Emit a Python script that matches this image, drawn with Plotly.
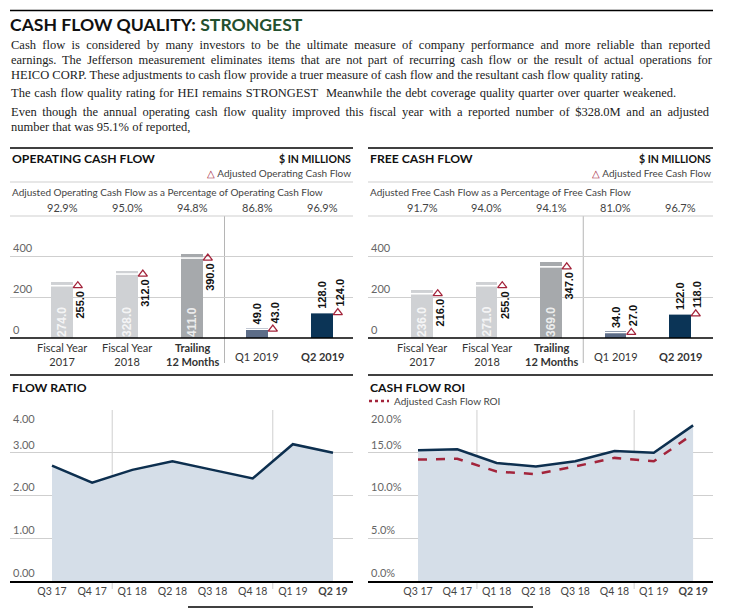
import plotly.graph_objects as go

W, H = 737, 613

# ---------------- data ----------------
bar_categories = ["Fiscal Year<br>2017", "Fiscal Year<br>2018", "<b>Trailing<br>12 Months</b>",
                  "Q1 2019", "<b>Q2 2019</b>"]
ocf_reported = [274.0, 328.0, 411.0, 49.0, 128.0]
ocf_adjusted = [255.0, 312.0, 390.0, 43.0, 124.0]
ocf_pct = ["92.9%", "95.0%", "94.8%", "86.8%", "96.9%"]
fcf_reported = [236.0, 271.0, 369.0, 34.0, 122.0]
fcf_adjusted = [216.0, 255.0, 347.0, 27.0, 118.0]
fcf_pct = ["91.7%", "94.0%", "94.1%", "81.0%", "96.7%"]
bar_ticks = [0, 200, 400]

quarters = ["Q3 17", "Q4 17", "Q1 18", "Q2 18", "Q3 18", "Q4 18", "Q1 19", "<b>Q2 19</b>"]
flow_ratio = [2.70, 2.30, 2.60, 2.80, 2.60, 2.40, 3.20, 3.00]
cf_roi = [15.3, 15.4, 13.8, 13.4, 14.0, 15.2, 15.0, 18.2]
adj_cf_roi = [14.2, 14.3, 12.8, 12.5, 13.4, 14.4, 14.0, 17.2]
ratio_ticks = [0, 1, 2, 3, 4]
roi_ticks = [0, 5, 10, 15, 20]

# ---------------- styles ----------------
SANS = "Lato, 'Open Sans', sans-serif"
NUM = "'Liberation Sans', Arial, sans-serif"
SERIF = "'Liberation Serif', 'Times New Roman', serif"
BAR_COLORS = ["#cfd1d4", "#cfd1d4", "#a6a9ac", "#5d6d88", "#0b3456"]
NAVY = "#0d2f4f"
RED = "#a3243b"
FILL = "#d5dee8"
GRID = "#cfcfcf"
TXT = "#444444"


def X(px):
    return px / W


def Y(py):
    return 1 - py / H


fig = go.Figure()
shapes = []
ann = []

LEFT = (10, 353)
RIGHT = (368, 713)


def ytick_annotations(ya, p0, ticks, labels, top_inside=False):
    for k, (t, lab) in enumerate(zip(ticks, labels)):
        is_top = top_inside and k == len(ticks) - 1
        ann.append(dict(x=X(p0 + 1), y=t, xref="paper", yref=ya, text=lab, showarrow=False,
                        xanchor="left", yanchor="top" if is_top else "bottom", yshift=0,
                        font=dict(family=SANS, size=11, color="#666")))


# --------------- bar panels ---------------
bar_panels = [
    ("x", "y", LEFT, 62, 65.0, ocf_reported, ocf_adjusted, ocf_pct,
     "OPERATING CASH FLOW", "Adjusted Operating Cash Flow",
     "Adjusted Operating Cash Flow as a Percentage of Operating Cash Flow"),
    ("x2", "y2", RIGHT, 422, 64.5, fcf_reported, fcf_adjusted, fcf_pct,
     "FREE CASH FLOW", "Adjusted Free Cash Flow",
     "Adjusted Free Cash Flow as a Percentage of Free Cash Flow"),
]
BAR_W = 0.333
for xa, ya, (p0, p1), c0, step, rep, adj, pct, title, legend, subtitle in bar_panels:
    n = len(rep)
    xs = list(range(n))
    r0 = -(c0 - p0) / step
    r1 = r0 + (p1 - p0) / step
    fig.update_layout(**{
        "xaxis" + xa[1:]: dict(domain=[X(p0), X(p1)], range=[r0, r1], showticklabels=False,
                               showgrid=False, zeroline=False, showline=False, anchor=ya),
        "yaxis" + ya[1:]: dict(domain=[Y(338), Y(215)], range=[0, 600], tickvals=bar_ticks,
                               showticklabels=False, showgrid=True, gridcolor=GRID, gridwidth=1,
                               zeroline=False, showline=False, anchor=xa),
    })
    ytick_annotations(ya, p0, bar_ticks, [str(t) for t in bar_ticks])
    fig.add_trace(go.Bar(x=xs, y=rep, width=BAR_W, marker=dict(color=BAR_COLORS, line=dict(width=0)),
                         xaxis=xa, yaxis=ya, hoverinfo="skip", showlegend=False))
    # white separator at adjusted value
    fig.add_trace(go.Scatter(x=xs, y=adj, mode="markers", xaxis=xa, yaxis=ya,
                             marker=dict(symbol="line-ew", size=21, line=dict(color="white", width=1.6)),
                             hoverinfo="skip", showlegend=False))
    # adjusted triangles
    tri_x = [i + BAR_W / 2 + 5.0 / step for i in xs]
    fig.add_trace(go.Scatter(x=tri_x, y=adj, mode="markers", xaxis=xa, yaxis=ya,
                             marker=dict(symbol="triangle-up-open", size=8, color=RED,
                                         line=dict(color=RED, width=1.3)),
                             hoverinfo="skip", showlegend=False))
    # labels
    for i in xs:
        lab_x = i + BAR_W / 2 + 7.0 / step
        if i < 3:
            ann.append(dict(x=i, y=0, xref=xa, yref=ya, text="%.1f" % rep[i], textangle=-90,
                            showarrow=False, xanchor="center", yanchor="bottom", yshift=-1,
                            font=dict(family=NUM, size=12, color="rgba(255,255,255,0.8)", weight="bold")))
            ann.append(dict(x=lab_x, y=adj[i], xref=xa, yref=ya, text="<b>%.1f</b>" % adj[i], textangle=-90,
                            showarrow=False, xanchor="center", yanchor="top", yshift=-3,
                            font=dict(family=NUM, size=11, color="#111")))
        else:
            ann.append(dict(x=i, y=rep[i], xref=xa, yref=ya, text="<b>%.1f</b>" % rep[i], textangle=-90,
                            showarrow=False, xanchor="center", yanchor="bottom", yshift=1,
                            font=dict(family=NUM, size=11, color="#111")))
            ann.append(dict(x=lab_x, y=adj[i], xref=xa, yref=ya, text="<b>%.1f</b>" % adj[i], textangle=-90,
                            showarrow=False, xanchor="center", yanchor="bottom", yshift=4,
                            font=dict(family=NUM, size=11, color="#111")))
        # percentages
        ann.append(dict(x=i, y=Y(207), xref=xa, yref="paper", text=pct[i], showarrow=False,
                        xanchor="center", yanchor="middle",
                        font=dict(family=SANS, size=11, color=TXT)))
        # category labels
        cat = bar_categories[i]
        if "<br>" in cat:
            ann.append(dict(x=i, y=Y(338.5), xref=xa, yref="paper", text=cat, showarrow=False,
                            xanchor="center", yanchor="top",
                            font=dict(family=SANS, size=11, color="#333")))
        else:
            ann.append(dict(x=i, y=Y(356), xref=xa, yref="paper", text=cat, showarrow=False,
                            xanchor="center", yanchor="middle",
                            font=dict(family=SANS, size=11, color="#333")))
    # divider between annual and quarterly
    shapes.append(dict(type="line", xref=xa, yref="paper", x0=2.5, x1=2.5, y0=Y(363), y1=Y(216),
                       line=dict(color="#b5b5b5", width=1), layer="below"))
    # axis line
    shapes.append(dict(type="line", xref="paper", yref="paper", x0=X(p0), x1=X(p1), y0=Y(338), y1=Y(338),
                       line=dict(color="black", width=1.5)))
    # header rules
    shapes.append(dict(type="line", xref="paper", yref="paper", x0=X(p0), x1=X(p1), y0=Y(148), y1=Y(148),
                       line=dict(color="black", width=1.5)))
    for yy in (182, 216):
        shapes.append(dict(type="line", xref="paper", yref="paper", x0=X(p0), x1=X(p1), y0=Y(yy), y1=Y(yy),
                           line=dict(color=GRID, width=1), layer="below"))
    ann.append(dict(x=X(p0), y=Y(159), xref="paper", yref="paper", text="<b>" + title + "</b>",
                    showarrow=False, xanchor="left", yanchor="middle",
                    font=dict(family=SANS, size=12.2, color="#111")))
    ann.append(dict(x=X(p1), y=Y(159), xref="paper", yref="paper", text="<b>$ IN MILLIONS</b>",
                    showarrow=False, xanchor="right", yanchor="middle",
                    font=dict(family=SANS, size=10.5, color="#111")))
    ann.append(dict(x=X(p1), y=Y(173), xref="paper", yref="paper",
                    text="<span style='color:%s'>△</span> %s" % (RED, legend),
                    showarrow=False, xanchor="right", yanchor="middle",
                    font=dict(family=SANS, size=10, color=TXT)))
    ann.append(dict(x=X(p0), y=Y(192), xref="paper", yref="paper", text=subtitle,
                    showarrow=False, xanchor="left", yanchor="middle",
                    font=dict(family=SANS, size=10, color=TXT)))

# --------------- line panels ---------------
line_panels = [
    ("x3", "y3", LEFT, 52, 40.14, [flow_ratio], ratio_ticks, ["%.2f" % t for t in ratio_ticks], "FLOW RATIO"),
    ("x4", "y4", RIGHT, 418, 39.3, [cf_roi, adj_cf_roi], roi_ticks, ["%.1f%%" % t for t in roi_ticks], "CASH FLOW ROI"),
]
for xa, ya, (p0, p1), c0, step, series, ticks, ticktext, title in line_panels:
    xs = list(range(len(quarters)))
    r0 = -(c0 - p0) / step
    r1 = r0 + (p1 - p0) / step
    fig.update_layout(**{
        "xaxis" + xa[1:]: dict(domain=[X(p0), X(p1)], range=[r0, r1], tickvals=xs, ticktext=quarters,
                               tickfont=dict(family=SANS, size=10.5, color=TXT), ticks="",
                               showgrid=False, zeroline=False, showline=True, linecolor="black",
                               linewidth=1.5, anchor=ya),
        "yaxis" + ya[1:]: dict(domain=[Y(581), Y(410)], range=[0, ticks[-1]], tickvals=ticks,
                               showticklabels=False, showgrid=True, gridcolor=GRID, gridwidth=1,
                               zeroline=False, showline=False, anchor=xa),
    })
    ytick_annotations(ya, p0, ticks, ticktext, top_inside=True)
    fig.add_trace(go.Scatter(x=xs, y=series[0], mode="lines", fill="tozeroy", fillcolor=FILL,
                             line=dict(color=NAVY, width=2.5), xaxis=xa, yaxis=ya,
                             hoverinfo="skip", showlegend=False))
    if len(series) > 1:
        fig.add_trace(go.Scatter(x=xs, y=series[1], mode="lines",
                                 line=dict(color=RED, width=2.5, dash="dash"), xaxis=xa, yaxis=ya,
                                 hoverinfo="skip", showlegend=False))
    for vx in (1.5, 5.5):
        shapes.append(dict(type="line", xref=xa, yref="paper", x0=vx, x1=vx, y0=Y(589), y1=Y(410),
                           line=dict(color=GRID, width=1), layer="below"))
    shapes.append(dict(type="line", xref="paper", yref="paper", x0=X(p0), x1=X(p1), y0=Y(375), y1=Y(375),
                       line=dict(color="black", width=1.5)))
    ann.append(dict(x=X(p0), y=Y(387), xref="paper", yref="paper", text="<b>" + title + "</b>",
                    showarrow=False, xanchor="left", yanchor="middle",
                    font=dict(family=SANS, size=12.2, color="#111")))

# ROI legend
shapes.append(dict(type="line", xref="paper", yref="paper", x0=X(369), x1=X(389), y0=Y(401), y1=Y(401),
                   line=dict(color=RED, width=2.5, dash="dot")))
ann.append(dict(x=X(392), y=Y(401), xref="paper", yref="paper", text="Adjusted Cash Flow ROI",
                showarrow=False, xanchor="left", yanchor="middle",
                font=dict(family=SANS, size=10, color=TXT)))

# --------------- page header ---------------
shapes.append(dict(type="line", xref="paper", yref="paper", x0=X(10), x1=X(713), y0=Y(10.5), y1=Y(10.5),
                   line=dict(color="black", width=1.5)))
ann.append(dict(x=X(8), y=Y(25), xref="paper", yref="paper",
                text="<b>CASH FLOW QUALITY: <span style='color:#23502f'>STRONGEST</span></b>",
                showarrow=False, xanchor="left", yanchor="middle",
                font=dict(family=SANS, size=17.6, color="#111")))
body = [
    (45, 3.2, "Cash flow is considered by many investors to be the ultimate measure of company performance and more reliable than reported"),
    (60, 2.6, "earnings. The Jefferson measurement eliminates items that are not part of recurring cash flow or the result of actual operations for"),
    (75, 0, "HEICO CORP. These adjustments to cash flow provide a truer measure of cash flow and the resultant cash flow quality rating."),
    (93, 0.8, "The cash flow quality rating for HEI remains STRONGEST&nbsp; Meanwhile the debt coverage quality quarter over quarter weakened."),
    (112, 2.5, "Even though the annual operating cash flow quality improved this fiscal year with a reported number of $328.0M and an adjusted"),
    (127, 0, "number that was 95.1% of reported,"),
]
for yy, ws, t in body:
    txt = "<span style='word-spacing:%.1fpx'>%s</span>" % (ws, t) if ws else t
    ann.append(dict(x=X(9), y=Y(yy), xref="paper", yref="paper", text=txt, showarrow=False,
                    xanchor="left", yanchor="middle", font=dict(family=SERIF, size=12.5, color="#222")))

# bottom rule
shapes.append(dict(type="line", xref="paper", yref="paper", x0=X(188), x1=X(533), y0=Y(607), y1=Y(607),
                   line=dict(color="black", width=1.5)))

fig.update_layout(width=W, height=H, margin=dict(l=0, r=0, t=0, b=0),
                  paper_bgcolor="white", plot_bgcolor="white",
                  shapes=shapes, annotations=ann, bargap=0)

fig.write_html("out.html", config={"displayModeBar": False},
               post_script="document.body.style.margin='0px';")
